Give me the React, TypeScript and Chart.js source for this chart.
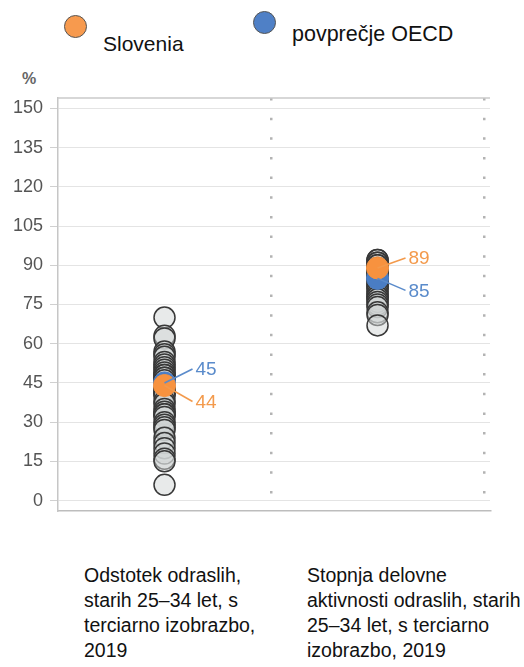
import React, { useEffect, useRef } from 'react';
import { Chart, registerables } from 'chart.js';

Chart.register(...registerables);

// ---- data ----
const categoryLines: string[][] = [
  ['Odstotek odraslih,', 'starih 25–34 let, s', 'terciarno izobrazbo,', '2019'],
  ['Stopnja delovne', 'aktivnosti odraslih, starih', '25–34 let, s terciarno', 'izobrazbo, 2019'],
];
const legendLabels = ['Slovenia', 'povprečje OECD'];
const unitLabel = '%';
const yTicks = [0, 15, 30, 45, 60, 75, 90, 105, 120, 135, 150];

// other countries, first indicator (tertiary attainment, 25-34)
const attainmentOthers = [
  70, 63, 62, 57, 56, 55, 53, 52, 51, 50, 49, 48, 48, 47, 47, 46, 43, 42, 42, 41, 41,
  40, 38, 37, 35, 34, 33, 33, 32, 30, 29, 28, 27, 24, 22, 20, 18, 16, 15, 6,
];
// other countries, second indicator (employment rate, 25-34 tertiary)
const employmentOthers = [
  92, 92, 91, 91, 90, 90, 89, 88, 88, 87, 86, 86, 85, 84, 84, 83, 82, 82, 81, 80, 79,
  78, 78, 77, 76, 75, 74, 72, 71, 67,
];
const sloveniaValues = [44, 89];
const oecdValues = [45, 85];

// ---- styles ----
const FONT = '"Liberation Sans", Arial, Helvetica, sans-serif';
const ORANGE = '#F7923F';
const BLUE = '#4A7DC4';
const ORANGE_TEXT = '#F39A4C';
const BLUE_TEXT = '#5A8BCB';

// callout offsets (dataset index, point index, vertical offset of label)
const callouts = [
  { ds: 1, idx: 0, dy: -14, color: BLUE_TEXT },
  { ds: 0, idx: 0, dy: 16, color: ORANGE_TEXT },
  { ds: 0, idx: 1, dy: -10, color: ORANGE_TEXT },
  { ds: 1, idx: 1, dy: 12, color: BLUE_TEXT },
];

const frameAndCallouts = {
  id: 'frameAndCallouts',
  beforeDatasetsDraw(chart: any) {
    const { ctx, chartArea } = chart;
    ctx.save();
    ctx.strokeStyle = '#cacaca';
    ctx.lineWidth = 1.5;
    ctx.beginPath();
    ctx.moveTo(chartArea.left, chartArea.top);
    ctx.lineTo(chartArea.right, chartArea.top);
    ctx.stroke();
    ctx.restore();
  },
  afterDatasetsDraw(chart: any) {
    const { ctx } = chart;
    ctx.save();
    callouts.forEach((c) => {
      const el = chart.getDatasetMeta(c.ds).data[c.idx];
      const value = (chart.data.datasets[c.ds].data[c.idx] as any).y;
      const x0 = el.x;
      const y0 = el.y;
      const x1 = x0 + 28;
      const y1 = y0 + c.dy;
      ctx.strokeStyle = c.color;
      ctx.lineWidth = 1.6;
      ctx.beginPath();
      ctx.moveTo(x0, y0);
      ctx.lineTo(x1, y1);
      ctx.stroke();
      ctx.fillStyle = c.color;
      ctx.font = `19px ${FONT}`;
      ctx.textAlign = 'left';
      ctx.textBaseline = 'middle';
      ctx.fillText(String(value), x1 + 3, y1 + 1);
    });
    ctx.restore();
  },
};

export default function App() {
  const canvasRef = useRef<HTMLCanvasElement | null>(null);

  useEffect(() => {
    if (!canvasRef.current) return;
    const grayPoints = [
      ...attainmentOthers.map((v) => ({ x: 0, y: v })),
      ...employmentOthers.map((v) => ({ x: 1, y: v })),
    ];
    const chart = new Chart(canvasRef.current, {
      type: 'scatter',
      data: {
        datasets: [
          {
            label: legendLabels[0],
            data: sloveniaValues.map((v, i) => ({ x: i, y: v })),
            backgroundColor: ORANGE,
            borderColor: ORANGE,
            borderWidth: 1,
            pointRadius: 11,
            order: 0,
          },
          {
            label: legendLabels[1],
            data: oecdValues.map((v, i) => ({ x: i, y: v })),
            backgroundColor: BLUE,
            borderColor: BLUE,
            borderWidth: 1,
            pointRadius: 11,
            order: 1,
          },
          {
            label: 'countries',
            data: grayPoints,
            backgroundColor: 'rgba(210,214,214,0.5)',
            borderColor: '#383838',
            borderWidth: 1.5,
            pointRadius: 10.5,
            order: 2,
          },
        ],
      },
      options: {
        animation: false,
        responsive: true,
        maintainAspectRatio: false,
        layout: { padding: { top: 38, right: 34, bottom: 19, left: 0 } },
        plugins: { legend: { display: false }, tooltip: { enabled: false } },
        scales: {
          x: {
            type: 'linear',
            min: -0.5,
            max: 1.528,
            afterBuildTicks: (s: any) => {
              s.ticks = [{ value: 0.5 }, { value: 1.5 }];
            },
            afterFit: (s: any) => {
              s.height = 0;
            },
            ticks: { display: false },
            grid: { color: '#b3b3b3', lineWidth: 2.5, drawTicks: false },
            border: { display: true, color: '#bdbdbd', width: 1.5, dash: [2.5, 17.15] },
          },
          y: {
            type: 'linear',
            min: -4,
            max: 154,
            afterBuildTicks: (s: any) => {
              s.ticks = yTicks.map((v) => ({ value: v }));
            },
            afterFit: (s: any) => {
              s.width = 58;
            },
            ticks: { color: '#555555', font: { family: FONT, size: 18 }, padding: 7 },
            grid: { color: '#e4e4e4', lineWidth: 1, tickLength: 8, tickColor: '#d0d0d0' },
            border: { display: true, color: '#c6c6c6', width: 1.5 },
          },
        },
      },
      plugins: [frameAndCallouts],
    } as any);
    return () => chart.destroy();
  }, []);

  const legendDot = (color: string, left: number, top: number) => (
    <div
      style={{
        position: 'absolute',
        left,
        top,
        width: 23,
        height: 23,
        borderRadius: '50%',
        background: color,
        border: '1.5px solid #555',
        boxSizing: 'border-box',
      }}
    />
  );

  return (
    <div
      style={{
        position: 'absolute',
        left: 0,
        top: 0,
        width: 524,
        height: 667,
        background: '#fff',
        fontFamily: FONT,
        overflow: 'hidden',
      }}
    >
      {legendDot('#F79A4E', 64, 15)}
      <div style={{ position: 'absolute', left: 103, top: 33, fontSize: 21, lineHeight: '21px', color: '#111' }}>
        {legendLabels[0]}
      </div>
      {legendDot('#4F80C6', 253, 11)}
      <div style={{ position: 'absolute', left: 292, top: 24, fontSize: 21.5, lineHeight: '21px', color: '#111' }}>
        {legendLabels[1]}
      </div>
      <div style={{ position: 'absolute', left: 22, top: 70, fontSize: 16, fontWeight: 'bold', color: '#666' }}>
        {unitLabel}
      </div>
      <div style={{ position: 'absolute', left: 0, top: 60, width: 524, height: 470 }}>
        <canvas ref={canvasRef} />
      </div>
      {categoryLines.map((lines, i) => (
        <div
          key={i}
          style={{
            position: 'absolute',
            left: i === 0 ? 84 : 307,
            top: 563,
            fontSize: 19.5,
            lineHeight: '25px',
            color: '#111',
            whiteSpace: 'nowrap',
          }}
        >
          {lines.map((l, j) => (
            <div key={j}>{l}</div>
          ))}
        </div>
      ))}
    </div>
  );
}
